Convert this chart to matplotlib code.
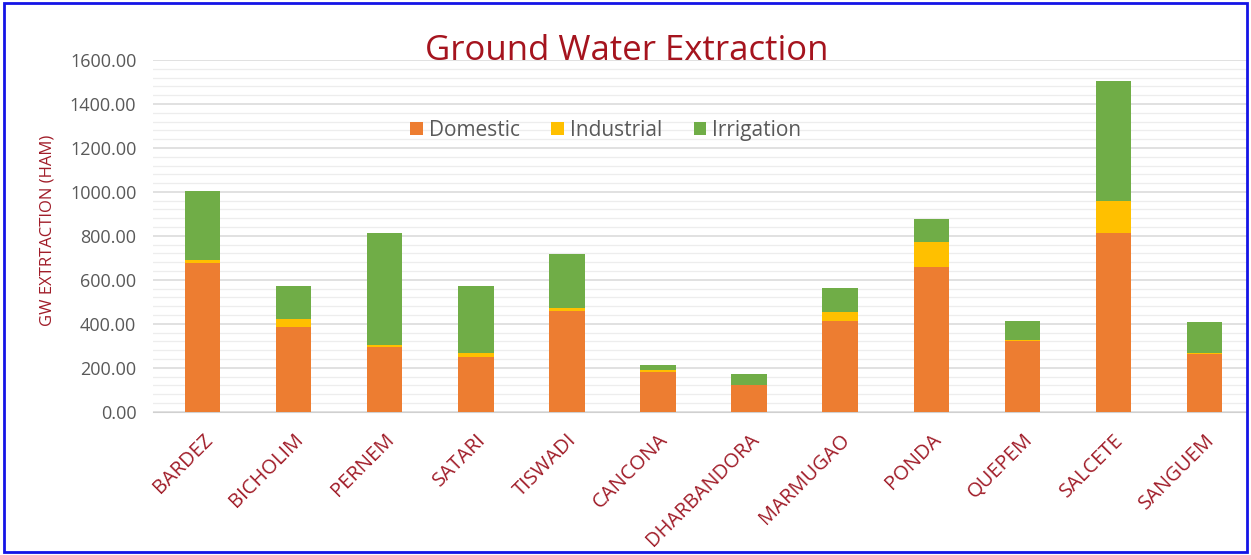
import numpy as np
import matplotlib.pyplot as plt
from matplotlib.patches import Rectangle
from matplotlib.ticker import MultipleLocator

# Ground water extraction per taluka (HAM)
talukas = ['BARDEZ', 'BICHOLIM', 'PERNEM', 'SATARI', 'TISWADI', 'CANCONA',
           'DHARBANDORA', 'MARMUGAO', 'PONDA', 'QUEPEM', 'SALCETE', 'SANGUEM']
domestic = [675, 384, 296, 250, 459, 181, 120, 413, 660, 321, 812, 262]
industrial = [15, 36, 10, 18, 13, 8, 2, 42, 111, 5, 148, 4]
irrigation = [314, 152, 506, 303, 245, 26, 51, 106, 106, 87, 545, 141]

plt.rcParams['font.family'] = ['Open Sans', 'DejaVu Sans']

fig = plt.figure(figsize=(12.51, 5.55), dpi=100)
ax = fig.add_axes([0.1223, 0.258, 0.8745, 0.634])

x = np.arange(len(talukas))
dom = np.array(domestic)
ind = np.array(industrial)
irr = np.array(irrigation)
w = 0.39
ax.bar(x, dom, w, color='#ED7D31', label='Domestic', zorder=3)
ax.bar(x, ind, w, bottom=dom, color='#FFC000', label='Industrial', zorder=3)
ax.bar(x, irr, w, bottom=dom + ind, color='#70AD47', label='Irrigation', zorder=3)

ax.set_xlim(-0.543, len(talukas) - 0.535)
ax.set_ylim(0, 1600)
ax.yaxis.set_major_locator(MultipleLocator(200))
ax.yaxis.set_minor_locator(MultipleLocator(40))
ax.yaxis.set_major_formatter(lambda v, p: f'{v:.2f}')
ax.grid(which='major', axis='y', color='#d9d9d9', linewidth=1.1, zorder=0)
ax.grid(which='minor', axis='y', color='#ededed', linewidth=0.9, zorder=0)
ax.tick_params(axis='y', which='both', length=0, pad=12, labelsize=13,
               labelcolor='#595959')
ax.tick_params(axis='x', length=0, pad=13)
for s in ['top', 'right', 'left']:
    ax.spines[s].set_visible(False)
ax.spines['bottom'].set_color('#d0d0d0')

ax.set_xticks(x)
ax.set_xticklabels(talukas, rotation=45, ha='right', rotation_mode='anchor',
                   fontsize=14.5, color='#A01C28')

fig.text(0.038, 0.585, 'GW EXTRTACTION (HAM)', rotation=90, ha='center',
         va='center', fontsize=12, color='#A01C28')
fig.text(0.501, 0.908, 'Ground Water Extraction', ha='center', va='center',
         fontsize=25, color='#A5141E')

ax.legend(loc='center', bbox_to_anchor=(0.414, 0.80), ncol=3, frameon=False,
          fontsize=15, labelcolor='#595959', handlelength=0.6,
          handleheight=0.6, handletextpad=0.3, columnspacing=1.5)

# blue frame around the whole figure
fig.patches.append(Rectangle((0.003, 0.005), 0.994, 0.99,
                             transform=fig.transFigure, fill=False,
                             edgecolor='#1414e6', linewidth=2))

plt.savefig('out.png')
